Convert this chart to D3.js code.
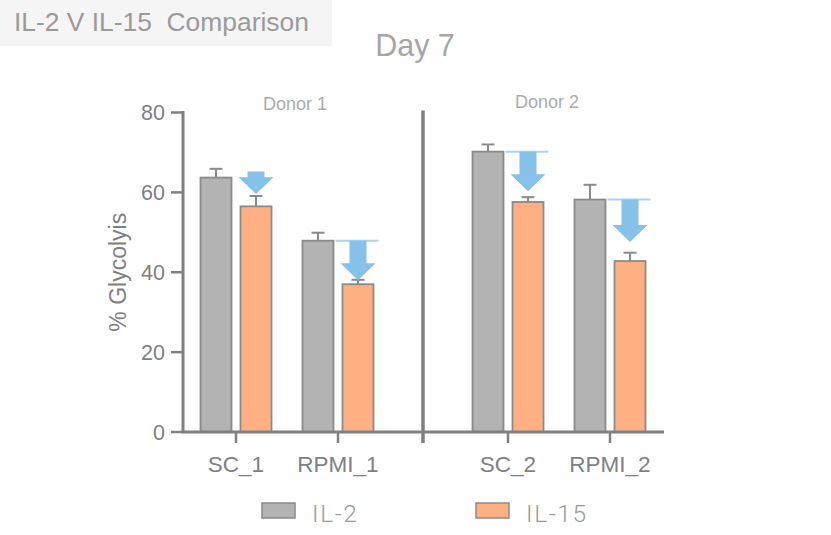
<!DOCTYPE html>
<html>
<head>
<meta charset="utf-8">
<script src="https://cdn.jsdelivr.net/npm/d3@7"></script>
<style>
  html, body { margin: 0; padding: 0; background: #fff; }
  svg { display: block; font-family: "Liberation Sans", Arial, sans-serif; }
</style>
</head>
<body>
<svg id="chart" width="831" height="535"></svg>
<script>
// ---- data ----
const categories = ["SC_1", "RPMI_1", "SC_2", "RPMI_2"];
const donors = ["Donor 1", "Donor 1", "Donor 2", "Donor 2"];
const series = ["IL-2", "IL-15"];
const il2Mean = [63.7, 47.9, 70.2, 58.2];
const il2Err = [2.2, 2.0, 1.8, 3.7];
const il15Mean = [56.5, 37.0, 57.6, 42.8];
const il15Err = [2.6, 1.1, 1.2, 2.1];
// decrease arrows drawn over the IL-15 bars (in % units)
const arrowStart = [65.2, 47.9, 70.2, 58.2];
const arrowEnd = [59.6, 38.0, 60.3, 47.6];
const arrowGuide = [false, true, true, true];
const yTicks = [0, 20, 40, 60, 80];

// ---- layout ----
const svg = d3.select("#chart");
const colors = { "IL-2": "#b3b3b3", "IL-15": "#ffb083" };
const axisColor = "#808080";
const barStroke = "#8a8a8a";
const arrowColor = "#85c1e9";
const guideColor = "#a9d5f2";

const y = d3.scaleLinear().domain([0, 80]).range([432, 112.5]);

// category slots along the x axis, with a wider gap between donors
const slot = { "SC_1": 0, "RPMI_1": 12, "SC_2": 32, "RPMI_2": 44 };
const dividerSlot = 22;
const xs = d3.scaleLinear().domain([0, 44]).range([236, 610]);
const xc = c => xs(slot[c]);
const inner = d3.scaleBand().domain(series).range([-35.5, 35.5]).paddingInner(0.225);

const axisLeft = 183, axisRight = 664;

// title box
svg.append("rect").attr("x", 0).attr("y", 0).attr("width", 332).attr("height", 46).attr("fill", "#f5f5f5");
svg.append("text").attr("x", 14).attr("y", 31).attr("fill", "#9a9a9a")
  .attr("font-size", 26.4).style("white-space", "pre").text("IL-2 V IL-15  Comparison");

svg.append("text").attr("x", 415).attr("y", 56).attr("text-anchor", "middle")
  .attr("fill", "#a6a6a6").attr("font-size", 30.5).text("Day 7");

// donor labels
const donorY = { "Donor 1": 110, "Donor 2": 107.5 };
const donorX = { "Donor 1": 295, "Donor 2": 547 };
Array.from(new Set(donors)).forEach(dn => {
  svg.append("text").attr("x", donorX[dn]).attr("y", donorY[dn])
    .attr("text-anchor", "middle").attr("fill", "#ababab").attr("font-size", 18).text(dn);
});

// bars
const rows = categories.map((c, i) => ({
  c, i,
  vals: [
    { s: "IL-2", v: il2Mean[i], e: il2Err[i] },
    { s: "IL-15", v: il15Mean[i], e: il15Err[i] }
  ]
}));

const g = svg.append("g");
rows.forEach(r => {
  r.vals.forEach(d => {
    const x0 = xc(r.c) + inner(d.s);
    const bw = inner.bandwidth();
    const cx = x0 + bw / 2;
    // error bar (upper)
    g.append("line").attr("x1", cx).attr("x2", cx).attr("y1", y(d.v)).attr("y2", y(d.v + d.e))
      .attr("stroke", barStroke).attr("stroke-width", 2);
    g.append("line").attr("x1", cx - 6.5).attr("x2", cx + 6.5).attr("y1", y(d.v + d.e)).attr("y2", y(d.v + d.e))
      .attr("stroke", barStroke).attr("stroke-width", 2);
    g.append("rect").attr("x", x0).attr("y", y(d.v)).attr("width", bw).attr("height", y(0) - y(d.v))
      .attr("fill", colors[d.s]).attr("stroke", barStroke).attr("stroke-width", 1.8);
  });
});

// decrease arrows
categories.forEach((c, i) => {
  const bw = inner.bandwidth();
  const cx = xc(c) + inner("IL-15") + bw / 2;
  if (arrowGuide[i]) {
    const gx0 = xc(c) + inner("IL-2") + bw + 2;
    const gx1 = xc(c) + inner("IL-15") + bw + 5;
    svg.append("line").attr("x1", gx0).attr("x2", gx1)
      .attr("y1", y(il2Mean[i])).attr("y2", y(il2Mean[i]))
      .attr("stroke", guideColor).attr("stroke-width", 2);
  }
  const yt = y(arrowStart[i]), yb = y(arrowEnd[i]);
  const headLen = Math.min(17, (yb - yt) * 0.75);
  const sw = 8.5, hw = 17.5;
  const pts = [
    [cx - sw, yt], [cx + sw, yt], [cx + sw, yb - headLen], [cx + hw, yb - headLen],
    [cx, yb], [cx - hw, yb - headLen], [cx - sw, yb - headLen]
  ];
  svg.append("path").attr("d", d3.line()(pts) + "Z").attr("fill", arrowColor);
});

// y axis
const yAxis = svg.append("g");
yAxis.append("line").attr("x1", axisLeft).attr("x2", axisLeft).attr("y1", y(80) - 1.5).attr("y2", y(0))
  .attr("stroke", axisColor).attr("stroke-width", 3);
yTicks.forEach(t => {
  yAxis.append("line").attr("x1", axisLeft - 12).attr("x2", axisLeft).attr("y1", y(t)).attr("y2", y(t))
    .attr("stroke", axisColor).attr("stroke-width", 2.5);
  yAxis.append("text").attr("x", axisLeft - 18).attr("y", y(t)).attr("dy", "0.36em")
    .attr("text-anchor", "end").attr("fill", "#7f7f7f").attr("font-size", 21.5).text(t);
});
svg.append("text").attr("transform", `translate(126,${(y(0) + y(80)) / 2}) rotate(-90)`)
  .attr("text-anchor", "middle").attr("fill", "#7f7f7f").attr("font-size", 23).text("% Glycolyis");

// x axis
const xAxis = svg.append("g");
xAxis.append("line").attr("x1", axisLeft - 1.5).attr("x2", axisRight).attr("y1", y(0)).attr("y2", y(0))
  .attr("stroke", axisColor).attr("stroke-width", 3);
categories.forEach(c => {
  xAxis.append("line").attr("x1", xc(c)).attr("x2", xc(c)).attr("y1", y(0)).attr("y2", y(0) + 11)
    .attr("stroke", axisColor).attr("stroke-width", 2.5);
  xAxis.append("text").attr("x", xc(c)).attr("y", 472).attr("text-anchor", "middle")
    .attr("fill", "#7f7f7f").attr("font-size", 22.5).text(c);
});
// donor divider
xAxis.append("line").attr("x1", xs(dividerSlot)).attr("x2", xs(dividerSlot))
  .attr("y1", 110.5).attr("y2", y(0) + 11).attr("stroke", axisColor).attr("stroke-width", 3.5);

// legend
const legendX = { "IL-2": 262, "IL-15": 476 };
series.forEach(s => {
  svg.append("rect").attr("x", legendX[s]).attr("y", 503).attr("width", 33).attr("height", 15)
    .attr("fill", colors[s]).attr("stroke", barStroke).attr("stroke-width", 1.5);
  svg.append("text").attr("x", legendX[s] + 50).attr("y", 522).attr("fill", "#9a9a9a")
    .attr("font-family", "Roboto").attr("font-weight", 300).attr("font-size", 24.5)
    .attr("letter-spacing", 1.6).text(s);
});
</script>
</body>
</html>
